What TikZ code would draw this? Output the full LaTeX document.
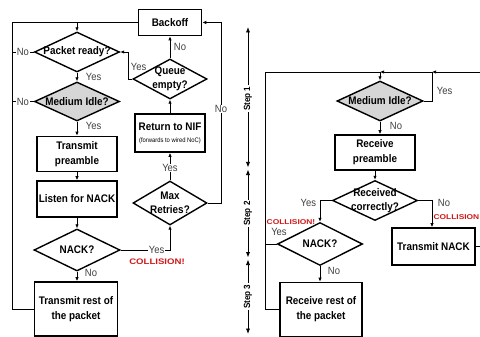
\documentclass[tikz,border=0pt]{standalone}
\usepackage{fontspec}
\setmainfont{Liberation Sans}[FakeStretch=0.9]
\newfontfamily\collfont[FakeStretch=1.2]{Liberation Sans Bold}
\usetikzlibrary{arrows.meta,shapes.geometric}
\definecolor{collred}{HTML}{D01818}
\definecolor{idle}{HTML}{D6D6D6}
\begin{document}
\begin{tikzpicture}[x=1pt,y=-1pt,
  box/.style={draw, line width=1.6pt, rectangle, inner sep=0pt, font=\fontsize{11}{15}\selectfont\bfseries, align=center},
  dia/.style={draw, line width=1.4pt, diamond, inner sep=0pt},
  dtext/.style={font=\fontsize{11}{13.5}\selectfont\bfseries, align=center, inner sep=0pt},
  lbl/.style={font=\fontsize{10.5}{11}\selectfont, text=black!75, inner sep=0.6pt},
  wire/.style={line width=0.75pt},
  arr/.style={wire, -{Latex[length=4pt,width=3.4pt]}},
  darr/.style={wire, {Latex[length=5.5pt,width=4.2pt]}-{Latex[length=5.5pt,width=4.2pt]}},
  collbig/.style={font=\collfont\fontsize{8}{9}\selectfont, text=collred, inner sep=0pt},
  collsmall/.style={font=\collfont\fontsize{7}{8}\selectfont, text=collred, inner sep=0pt},
  steplbl/.style={font=\fontsize{9}{10}\selectfont\bfseries, rotate=90, fill=white, inner sep=1.2pt}
]
\useasboundingbox[fill=white] (0,0) rectangle (480,337);

% ---------------- left flow (transmitter) ----------------
\node[box, minimum width=63pt, minimum height=26pt] (backoff) at (170,22.5) {Backoff};
\node[dia, minimum width=85pt, minimum height=40pt] (pready) at (77,52) {};
\node[dtext] (pready-t) at (pready) {Packet ready?};
\node[dia, fill=idle, minimum width=85pt, minimum height=39pt] (idle1) at (77,101.5) {};
\node[dtext] (idle1-t) at (idle1) {Medium Idle?};
\node[box, minimum width=80pt, minimum height=35pt] (txpre) at (77,154) {Transmit\\preamble};
\node[box, minimum width=80pt, minimum height=36pt] (listen) at (77,199) {Listen for NACK};
\node[dia, minimum width=86pt, minimum height=42pt] (nack1) at (77,250) {};
\node[dtext] (nack1-t) at (nack1) {NACK?};
\node[box, minimum width=83pt, minimum height=54pt] (txrest) at (76,309) {Transmit rest of\\the packet};

\node[dia, minimum width=74pt, minimum height=40pt] (queue) at (170,79) {};
\node[dtext] (queue-t) at (queue) {Queue\\empty?};
\node[box, minimum width=70pt, minimum height=38pt] (retnif) at (170,133) {Return to NIF\\[-3pt]{\fontsize{6.5}{7}\selectfont\mdseries (forwards to wired NoC)}};
\node[dia, minimum width=74pt, minimum height=44pt] (maxr) at (170,203) {};
\node[dtext] (maxr-t) at (maxr) {Max\\Retries?};

\coordinate (L1) at (12,22.5);
\coordinate (L2) at (12,309);
\draw[wire] (backoff.west) -- (L1) -- (L2) -- (txrest.west);
\draw[arr] (pready.north |- L1) -- (pready.north);
\draw[wire] (pready.west) -- node[lbl, fill=white] (no1) {No} (pready.west -| L1);
\draw[wire] (idle1.west) -- node[lbl, fill=white] (no2) {No} (idle1.west -| L1);
\draw[arr] (pready.south) -- node[lbl, right=8pt, pos=0.5] (yes1) {Yes} (idle1.north);
\draw[arr] (idle1.south) -- node[lbl, right=8pt, pos=0.3] (yes2) {Yes} (txpre.north);
\draw[arr] (txpre.south) -- (listen.north);
\draw[arr] (listen.south) -- (nack1.north);
\draw[arr] (nack1.south) -- node[lbl, right=7pt, pos=0.15] (no3) {No} (nack1.south |- txrest.north);
\draw[arr] (nack1.east) -- node[lbl, fill=white, pos=0.73] (yes3) {Yes} (maxr.south |- nack1.east) -- (maxr.south);
\node[collbig] (coll1) at (157,262) {COLLISION!};
\draw[arr] (maxr.north) -- node[lbl, fill=white, pos=0.45] (yes4) {Yes} (retnif.south);
\draw[arr] (retnif.north) -- (queue.south);
\draw[arr] (queue.north) -- node[lbl, right=3pt] (no4) {No} (backoff.south);
\coordinate (Y1) at (128,0);
\draw[arr] (queue.west) -- (queue.west -| Y1) -- node[lbl, right=2pt, pos=0.45] (yes5) {Yes} (pready.east -| Y1) -- (pready.east);
\coordinate (R1) at (221,0);
\draw[arr] (maxr.east) -- (maxr.east -| R1) -- node[lbl, fill=white, pos=0.52] (no5) {No} (backoff.east -| R1) -- (backoff.east);

% ---------------- step scale ----------------
\coordinate (S0) at (248,27);
\coordinate (S1) at (248,167.5);
\coordinate (S1b) at (248,169.5);
\coordinate (S2) at (248,257.5);
\coordinate (S2b) at (248,259.5);
\coordinate (S3) at (248,334);
\draw[darr] (S0) -- node[steplbl, pos=0.51] (st1) {Step 1} (S1);
\draw[darr] (S1b) -- node[steplbl, pos=0.5] (st2) {Step 2} (S2);
\draw[darr] (S2b) -- node[steplbl, pos=0.5] (st3) {Step 3} (S3);

% ---------------- right flow (receiver) ----------------
\node[dia, fill=idle, minimum width=86pt, minimum height=40pt] (idle2) at (380,101) {};
\node[dtext] (idle2-t) at (idle2) {Medium Idle?};
\node[box, minimum width=80pt, minimum height=35pt] (rxpre) at (375,152.5) {Receive\\preamble};
\node[dia, minimum width=85pt, minimum height=40pt] (rcorr) at (375,200.5) {};
\node[dtext] (rcorr-t) at (rcorr) {Received\\correctly?};
\node[dia, minimum width=85pt, minimum height=43pt] (nack2) at (320,244) {};
\node[dtext] (nack2-t) at (nack2) {NACK?};
\node[box, minimum width=82pt, minimum height=54pt] (rxrest) at (321,309.5) {Receive rest of\\the packet};
\node[box, minimum width=83pt, minimum height=37pt] (txnack) at (433.5,246.5) {Transmit NACK};

\coordinate (RL) at (265,72);
\coordinate (RB) at (265,309.5);
\coordinate (RT) at (484,72);
\coordinate (J) at (432,72);
\coordinate (RX) at (484,246.5);
\draw[wire] (rxrest.west) -- (RB) -- (RL) -- (idle2.north |- RL);
\draw[wire] (nack2.west) -- (nack2.west -| RL);
\draw[arr] (RT) -- (J);
\draw[arr] (J) -- (idle2.north |- RL);
\draw[arr] (idle2.north |- RL) -- (idle2.north);
\draw[wire] (idle2.east) -- (idle2.east -| J) -- node[lbl, right=4pt, pos=0.35] (yes6) {Yes} (J);
\draw[arr] (idle2.south) -- node[lbl, right=9pt, pos=0.3] (no6) {No} (idle2.south |- rxpre.north);
\draw[arr] (rxpre.south) -- (rcorr.north);
\draw[arr] (rcorr.west) -- (rcorr.west -| nack2.north) node[lbl, left=3pt, yshift=-2pt] (yes7) {Yes} -- (nack2.north);
\draw[arr] (rcorr.east) -- (rcorr.east -| J) node[lbl, right=5pt, yshift=-2pt] (no7) {No} -- (J |- txnack.north);
\node[collsmall] (coll2) at (291,222.5) {COLLISION!};
\node[collsmall, anchor=east] (coll3) at (479.5,217.5) {COLLISION};
\node[lbl] (yes8) at (279,231.5) {Yes};
\draw[arr] (nack2.south) -- node[lbl, right=7pt, pos=0.3] (no8) {No} (nack2.south |- rxrest.north);
\draw[wire] (txnack.east) -- (RX);
\end{tikzpicture}
\end{document}
